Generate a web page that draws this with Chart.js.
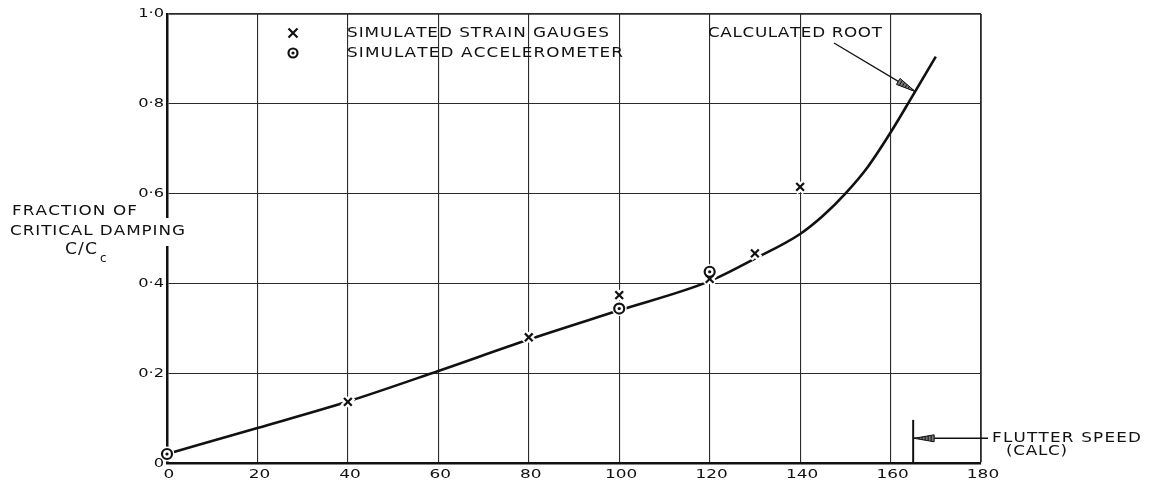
<!DOCTYPE html>
<html>
<head>
<meta charset="utf-8">
<script src="https://cdn.jsdelivr.net/npm/chart.js@4.4.1/dist/chart.umd.min.js"></script>
<style>
  html, body { margin: 0; padding: 0; background: #fff; }
  #damping { display: block; }
</style>
</head>
<body>
<canvas id="damping" width="1159" height="487"></canvas>
<script>
// axis labels
const xTickLabels = ['0', '20', '40', '60', '80', '100', '120', '140', '160', '180'];
const yTickLabels = ['0', '0·2', '0·4', '0·6', '0·8', '1·0'];

// calculated root (c/cc against speed)
const rootSpeed = [0, 20, 40, 60, 80, 100, 120, 130, 140, 145, 150, 155, 160, 165, 170];
const rootDamping = [0.02, 0.078, 0.137, 0.205, 0.275, 0.34, 0.405, 0.455, 0.51, 0.55, 0.6, 0.66, 0.736, 0.82, 0.905];

// simulated strain gauges
const gaugeSpeed = [40, 80, 100, 120, 130, 140];
const gaugeDamping = [0.136, 0.28, 0.374, 0.41, 0.467, 0.615];

// simulated accelerometer
const accelSpeed = [0, 100, 120];
const accelDamping = [0.02, 0.344, 0.426];

// calculated flutter speed marker
const flutterSpeed = [165, 165];
const flutterMark = [0, 0.096];

const FONT = 'DejaVu Sans';
const INK = '#111';

function pts(xs, ys) {
  return xs.map(function (x, i) { return { x: x, y: ys[i] }; });
}

// wide stencil-style lettering: each glyph stretched by sx,
// letters spread so the word fills the given width
function spaced(ctx, text, x, y, width, sx) {
  sx = sx || 1.2;
  const chars = Array.from(text);
  const widths = chars.map(function (c) { return ctx.measureText(c).width * sx; });
  const natural = widths.reduce(function (a, b) { return a + b; }, 0);
  const gap = chars.length > 1 ? (width - natural) / (chars.length - 1) : 0;
  let cx = x;
  chars.forEach(function (c, i) {
    ctx.save();
    ctx.translate(cx, y);
    ctx.scale(sx, 1);
    ctx.fillText(c, 0, 0);
    ctx.restore();
    cx += widths[i] + gap;
  });
}

// same lettering, anchored by its right end or centre
function label(ctx, text, x, y, align, sx) {
  const chars = Array.from(text);
  const w = chars.reduce(function (a, c) { return a + ctx.measureText(c).width * sx; }, 0);
  const x0 = align === 'right' ? x - w : align === 'center' ? x - w / 2 : x;
  spaced(ctx, text, x0, y, w, sx);
}

// hatched drafting arrowhead, tip at (x1, y1)
function dart(ctx, x0, y0, x1, y1, len, half) {
  const a = Math.atan2(y1 - y0, x1 - x0);
  const bx = x1 - Math.cos(a) * len;
  const by = y1 - Math.sin(a) * len;
  const nx = -Math.sin(a) * half;
  const ny = Math.cos(a) * half;
  ctx.save();
  ctx.fillStyle = '#777';
  ctx.strokeStyle = INK;
  ctx.lineWidth = 1;
  ctx.beginPath();
  ctx.moveTo(x1, y1);
  ctx.lineTo(bx + nx, by + ny);
  ctx.lineTo(bx - nx, by - ny);
  ctx.closePath();
  ctx.fill();
  ctx.stroke();
  for (let t = 0.25; t < 1; t += 0.15) {
    const hx = x1 - Math.cos(a) * len * t;
    const hy = y1 - Math.sin(a) * len * t;
    ctx.beginPath();
    ctx.moveTo(hx + nx * t, hy + ny * t);
    ctx.lineTo(hx - nx * t, hy - ny * t);
    ctx.stroke();
  }
  ctx.restore();
}

const draftingPlugin = {
  id: 'drafting',
  afterDraw: function (chart) {
    const ctx = chart.ctx;
    const xs = chart.scales.x;
    const ys = chart.scales.y;
    const area = chart.chartArea;
    ctx.save();
    ctx.fillStyle = INK;
    ctx.strokeStyle = INK;
    ctx.textBaseline = 'middle';
    ctx.textAlign = 'left';

    // tick labels
    ctx.font = '13px ' + FONT;
    xs.ticks.forEach(function (t, i) {
      label(ctx, xTickLabels[i], xs.getPixelForValue(t.value) + 2, area.bottom + 12, 'center', 1.3);
    });
    ys.ticks.forEach(function (t, i) {
      const py = ys.getPixelForValue(t.value);
      label(ctx, yTickLabels[i], area.left - 3, i === 0 ? py + 1 : py, 'right', 1.25);
    });

    ctx.font = '14px ' + FONT;

    // legend
    const lx = area.left + 126;
    ctx.lineWidth = 2.2;
    ctx.beginPath();
    ctx.moveTo(lx - 4.5, 28.5); ctx.lineTo(lx + 4.5, 37.5);
    ctx.moveTo(lx + 4.5, 28.5); ctx.lineTo(lx - 4.5, 37.5);
    ctx.stroke();
    ctx.beginPath();
    ctx.arc(lx, 53, 4.5, 0, Math.PI * 2);
    ctx.stroke();
    ctx.beginPath();
    ctx.arc(lx, 53, 1.6, 0, Math.PI * 2);
    ctx.fill();
    spaced(ctx, 'SIMULATED STRAIN GAUGES', area.left + 180, 33, 262);
    spaced(ctx, 'SIMULATED ACCELEROMETER', area.left + 180, 53, 276);

    // y axis title, breaking the axis line
    ctx.fillStyle = '#fff';
    ctx.fillRect(area.left - 8, 218, 26, 28);
    ctx.fillStyle = INK;
    spaced(ctx, 'FRACTION OF', 12, 211, 125);
    spaced(ctx, 'CRITICAL DAMPING', 10, 231, 175);
    ctx.font = '15px ' + FONT;
    spaced(ctx, 'C/C', 65, 250, 32, 1.15);
    ctx.font = '12px ' + FONT;
    ctx.fillText('c', 100, 259);
    ctx.font = '14px ' + FONT;

    // calculated root note
    spaced(ctx, 'CALCULATED ROOT', 708, 33, 174);
    const tx = xs.getPixelForValue(165.5);
    const ty = ys.getPixelForValue(0.827);
    ctx.lineWidth = 1.3;
    ctx.beginPath();
    ctx.moveTo(834, 43);
    ctx.lineTo(tx, ty);
    ctx.stroke();
    dart(ctx, 834, 43, tx, ty, 20, 3.5);

    // flutter speed note
    const fx = xs.getPixelForValue(flutterSpeed[0]);
    const fy = ys.getPixelForValue(0.055);
    ctx.lineWidth = 1.6;
    ctx.beginPath();
    ctx.moveTo(988, fy);
    ctx.lineTo(fx, fy);
    ctx.stroke();
    dart(ctx, 988, fy, fx + 1, fy, 20, 3.5);
    spaced(ctx, 'FLUTTER SPEED', 992, fy, 149);
    spaced(ctx, '(CALC)', 1006, fy + 13, 61);
    ctx.restore();
  },
};

const gridColor = function (c) { return '#2a2a2a'; };

new Chart(document.getElementById('damping'), {
  type: 'scatter',
  data: {
    datasets: [
      {
        label: 'Calculated root',
        data: pts(rootSpeed, rootDamping),
        showLine: true,
        borderColor: INK,
        borderWidth: 2.6,
        pointRadius: 0,
        cubicInterpolationMode: 'monotone',
        clip: false,
        order: 6,
      },
      {
        label: 'Flutter speed',
        data: pts(flutterSpeed, flutterMark),
        showLine: true,
        borderColor: INK,
        borderWidth: 2,
        pointRadius: 0,
        order: 6,
      },
      {
        // white gap where the root line passes a cross
        label: 'gauge gap',
        data: pts(gaugeSpeed, gaugeDamping),
        pointStyle: 'crossRot',
        pointRadius: 7,
        borderColor: '#fff',
        borderWidth: 7,
        clip: false,
        order: 5,
      },
      {
        label: 'accel gap',
        data: pts(accelSpeed, accelDamping),
        pointStyle: 'circle',
        pointRadius: 6.5,
        backgroundColor: '#fff',
        borderColor: '#fff',
        borderWidth: 2,
        clip: false,
        order: 4,
      },
      {
        label: 'Simulated strain gauges',
        data: pts(gaugeSpeed, gaugeDamping),
        pointStyle: 'crossRot',
        pointRadius: 5.5,
        borderColor: INK,
        borderWidth: 2.2,
        clip: false,
        order: 3,
      },
      {
        label: 'Simulated accelerometer',
        data: pts(accelSpeed, accelDamping),
        pointStyle: 'circle',
        pointRadius: 5,
        backgroundColor: 'rgba(255,255,255,0)',
        borderColor: INK,
        borderWidth: 2.2,
        clip: false,
        order: 2,
      },
      {
        label: 'accel centre',
        data: pts(accelSpeed, accelDamping),
        pointStyle: 'circle',
        pointRadius: 1.6,
        backgroundColor: INK,
        borderWidth: 0,
        clip: false,
        order: 1,
      },
    ],
  },
  options: {
    responsive: false,
    animation: false,
    events: [],
    layout: {
      padding: { left: 0, top: 14, right: 178, bottom: 0 },
    },
    plugins: {
      legend: { display: false },
      tooltip: { enabled: false },
    },
    scales: {
      x: {
        type: 'linear',
        min: 0,
        max: 180,
        afterFit: function (s) { s.height = 24; },
        border: { color: INK, width: 2.5 },
        grid: {
          color: gridColor,
          lineWidth: function (c) { return c.index === xTickLabels.length - 1 ? 1.8 : 1.1; },
          drawTicks: false,
        },
        ticks: {
          stepSize: 20,
          display: false,
        },
      },
      y: {
        min: 0,
        max: 1,
        afterFit: function (s) { s.width = 167; },
        border: { color: INK, width: 2.5 },
        grid: {
          color: gridColor,
          lineWidth: function (c) { return c.index === yTickLabels.length - 1 ? 1.8 : 1.1; },
          drawTicks: false,
        },
        ticks: {
          stepSize: 0.2,
          display: false,
        },
      },
    },
  },
  plugins: [draftingPlugin],
});
</script>
</body>
</html>
